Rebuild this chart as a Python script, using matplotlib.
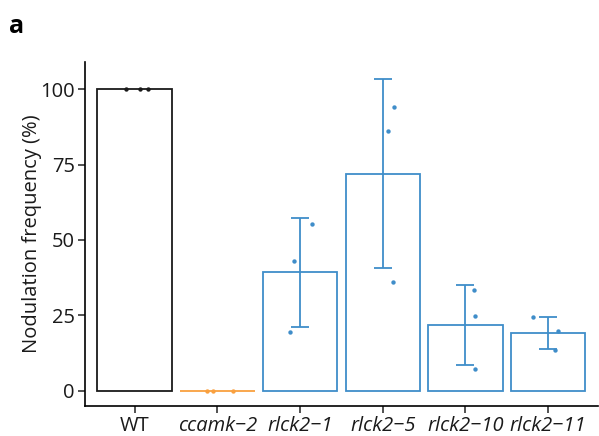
import numpy as np
import matplotlib
matplotlib.use('Agg')
import matplotlib.pyplot as plt

# data
genotypes = ['WT', 'ccamk\u22122', 'rlck2\u22121', 'rlck2\u22125', 'rlck2\u221210', 'rlck2\u221211']
italic = [False, True, True, True, True, True]
means = [100, 0, 39.3, 72.0, 21.8, 19.3]
sds = [0, 0, 18.1, 31.4, 13.2, 5.3]
points = [
    [100, 100, 100],
    [0, 0, 0],
    [55.3, 43.0, 19.5],
    [94.0, 86.0, 36.0],
    [33.4, 24.8, 7.3],
    [24.5, 19.9, 13.6],
]
jitter = [
    [-0.11, 0.06, 0.16],
    [-0.13, -0.05, 0.19],
    [0.14, -0.07, -0.12],
    [0.14, 0.06, 0.12],
    [0.10, 0.11, 0.12],
    [-0.18, 0.12, 0.08],
]
colors = ['#1a1a1a', '#F9A03F', '#3F8DC9', '#3F8DC9', '#3F8DC9', '#3F8DC9']

plt.rcParams['font.family'] = ['Open Sans', 'DejaVu Sans']

fig = plt.figure(figsize=(5.99, 4.36), dpi=100)
ax = fig.add_axes([0.142, 0.069, 0.856, 0.789])

x = np.arange(1, len(genotypes) + 1)
for i in range(len(genotypes)):
    ax.bar(x[i], means[i], width=0.9, facecolor='white', edgecolor=colors[i],
           linewidth=1.3, zorder=1)
    if sds[i] > 0:
        ax.errorbar(x[i], means[i], yerr=sds[i], color=colors[i], elinewidth=1.3,
                    capsize=6.5, capthick=1.3, fmt='none', zorder=2)
    ax.scatter(x[i] + np.array(jitter[i]), points[i], s=10, color=colors[i],
               zorder=3, linewidths=0)

ax.set_xlim(0.4, 6.6)
ax.set_ylim(-5, 109)
ax.set_yticks([0, 25, 50, 75, 100])
ax.set_xticks(x)
ax.set_xticklabels(genotypes)
for lab, it in zip(ax.get_xticklabels(), italic):
    if it:
        lab.set_style('italic')

for s in ['top', 'right']:
    ax.spines[s].set_visible(False)
for s in ['left', 'bottom']:
    ax.spines[s].set_linewidth(1.2)
ax.tick_params(axis='both', direction='out', length=5, width=1.2, color='#333333',
               labelsize=14.5, labelcolor='#1a1a1a', pad=2.5)
ax.set_ylabel('Nodulation frequency (%)', fontsize=14.5, color='#1a1a1a', labelpad=-1.5)

fig.text(0.015, 0.925, 'a', fontsize=18, fontweight='bold')

fig.savefig('out.png', dpi=100)
